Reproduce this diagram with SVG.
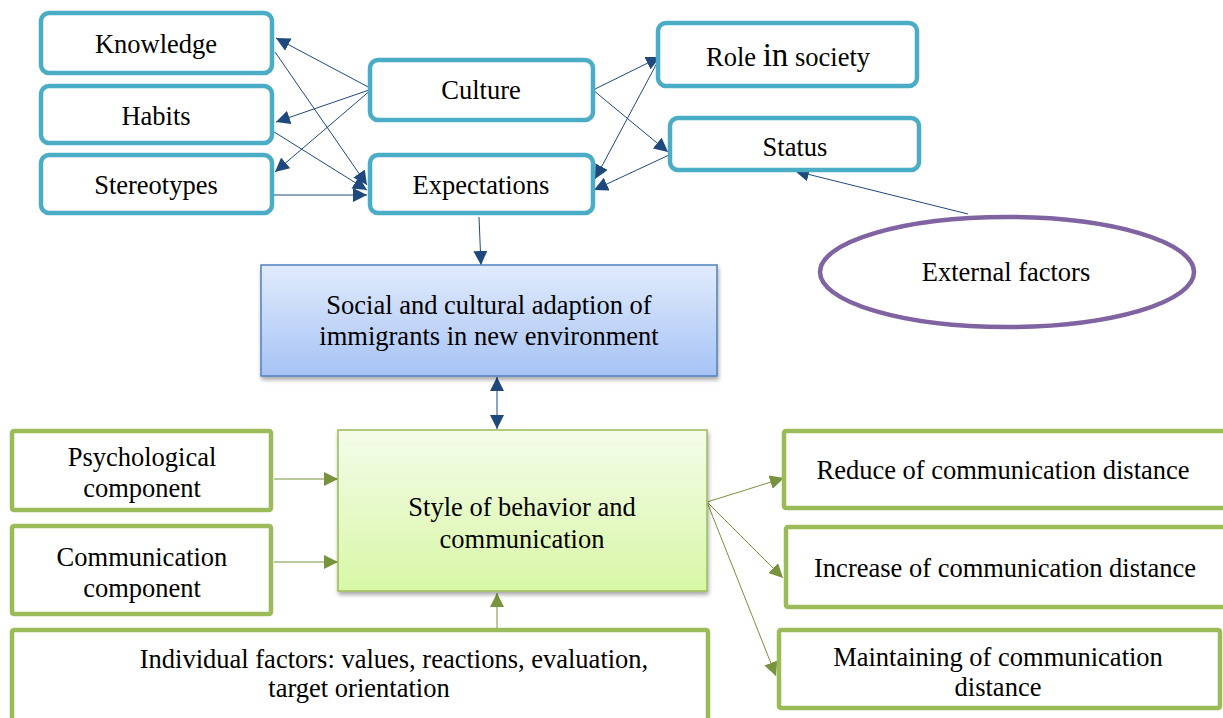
<svg xmlns="http://www.w3.org/2000/svg" width="1223" height="718" viewBox="0 0 1223 718">
<style>
text{font-family:"Liberation Serif","Times New Roman",serif;font-size:26.5px;fill:#000;text-anchor:middle}
.teal{fill:#fff;stroke:#4BACC6;stroke-width:4.5}
.grn{fill:#fff;stroke:#9BBB59;stroke-width:4.5}
.bl{stroke:#1F497D;stroke-width:1;fill:none}
.gl{stroke:#77933C;stroke-width:1;fill:none}
</style>
<defs>
<marker id="ab" viewBox="0 0 10 10" refX="10" refY="5" markerWidth="14" markerHeight="14" markerUnits="userSpaceOnUse" orient="auto-start-reverse"><path d="M0,0L10,5L0,10z" fill="#1F497D"/></marker>
<marker id="ag" viewBox="0 0 10 10" refX="10" refY="5" markerWidth="14" markerHeight="14" markerUnits="userSpaceOnUse" orient="auto-start-reverse"><path d="M0,0L10,5L0,10z" fill="#77933C"/></marker>
<linearGradient id="gb" x1="0" y1="0" x2="0" y2="1"><stop offset="0" stop-color="#E1EBFC"/><stop offset="1" stop-color="#A6C3F5"/></linearGradient>
<linearGradient id="gg" x1="0" y1="0" x2="0" y2="1"><stop offset="0" stop-color="#F4FCEA"/><stop offset="1" stop-color="#D8F7A6"/></linearGradient>
<filter id="sh" x="-5%" y="-5%" width="110%" height="115%"><feDropShadow dx="1" dy="3" stdDeviation="2" flood-color="#000" flood-opacity="0.35"/></filter>
</defs>
<g id="connectors">
<line class="bl" x1="372" y1="89" x2="276" y2="38" marker-end="url(#ab)"/>
<line class="bl" x1="372" y1="89" x2="276" y2="122" marker-end="url(#ab)"/>
<line class="bl" x1="372" y1="89" x2="275" y2="172" marker-end="url(#ab)"/>
<line class="bl" x1="275" y1="52" x2="367" y2="185" marker-end="url(#ab)"/>
<line class="bl" x1="271" y1="130" x2="367" y2="190" marker-end="url(#ab)"/>
<line class="bl" x1="273" y1="195" x2="367" y2="195" stroke="#8EA4C8" marker-end="url(#ab)"/>
<line class="bl" x1="593" y1="90" x2="660" y2="57" marker-end="url(#ab)"/>
<line class="bl" x1="593" y1="90" x2="668" y2="152" marker-end="url(#ab)"/>
<line class="bl" x1="657" y1="63" x2="595" y2="179" marker-end="url(#ab)"/>
<line class="bl" x1="669" y1="155" x2="594" y2="190" marker-end="url(#ab)"/>
<line class="bl" x1="968" y1="214" x2="795" y2="171" marker-end="url(#ab)"/>
<line class="bl" x1="479" y1="217" x2="481" y2="265" marker-end="url(#ab)"/>
<line class="bl" x1="497" y1="377" x2="497" y2="429" stroke="#8EA4C8" marker-start="url(#ab)" marker-end="url(#ab)"/>
<line class="gl" x1="274" y1="479" x2="338" y2="479" marker-end="url(#ag)"/>
<line class="gl" x1="274" y1="562" x2="338" y2="562" marker-end="url(#ag)"/>
<line class="gl" x1="497" y1="628" x2="497" y2="593" marker-end="url(#ag)"/>
<line class="gl" x1="707" y1="502" x2="784" y2="478" marker-end="url(#ag)"/>
<line class="gl" x1="707" y1="502" x2="783" y2="578" marker-end="url(#ag)"/>
<line class="gl" x1="707" y1="502" x2="776" y2="676" marker-end="url(#ag)"/>
</g>
<g id="knowledge"><rect class="teal" x="41" y="13" width="231" height="60" rx="8"/><text x="156" y="53">Knowledge</text></g>
<g id="habits"><rect class="teal" x="41" y="86" width="231" height="57" rx="8"/><text x="156" y="125">Habits</text></g>
<g id="stereotypes"><rect class="teal" x="41" y="155" width="231" height="58" rx="8"/><text x="156" y="194">Stereotypes</text></g>
<g id="culture"><rect class="teal" x="370" y="60" width="223" height="60" rx="8"/><text x="481" y="99">Culture</text></g>
<g id="expectations"><rect class="teal" x="370" y="155" width="223" height="58" rx="8"/><text x="481" y="194">Expectations</text></g>
<g id="role"><rect class="teal" x="658" y="23" width="259" height="63" rx="8"/><text x="788" y="66">Role <tspan font-size="33">in</tspan> society</text></g>
<g id="status"><rect class="teal" x="670" y="118" width="249" height="52" rx="8"/><text x="795" y="156">Status</text></g>
<g id="external"><ellipse cx="1007" cy="272" rx="187" ry="55" fill="#fff" stroke="#8064A2" stroke-width="4.5"/><text x="1006" y="281">External factors</text></g>
<g id="social"><rect x="261" y="265" width="456" height="111" fill="url(#gb)" stroke="#4F81BD" stroke-width="1.5" filter="url(#sh)"/><text x="489" y="314">Social and cultural adaption of</text><text x="489" y="345">immigrants in new environment</text></g>
<g id="style"><rect x="338" y="430" width="369" height="161" fill="url(#gg)" stroke="#9BBB59" stroke-width="1.5" filter="url(#sh)"/><text x="522" y="516">Style of behavior and</text><text x="522" y="548">communication</text></g>
<g id="psych"><rect class="grn" x="12" y="431" width="259" height="79" rx="2"/><text x="142" y="466">Psychological</text><text x="142" y="497">component</text></g>
<g id="comm"><rect class="grn" x="12" y="526" width="259" height="88" rx="2"/><text x="142" y="566">Communication</text><text x="142" y="597">component</text></g>
<g id="individual"><rect class="grn" x="12" y="630" width="696" height="92" rx="2"/><text x="394" y="668">Individual factors: values, reactions, evaluation,</text><text x="359" y="697">target orientation</text></g>
<g id="reduce"><rect class="grn" x="784" y="431" width="442" height="77" rx="2"/><text x="1003" y="479">Reduce of communication distance</text></g>
<g id="increase"><rect class="grn" x="786" y="527" width="440" height="80" rx="2"/><text x="1005" y="577">Increase of communication distance</text></g>
<g id="maintain"><rect class="grn" x="779" y="630" width="441" height="78" rx="2"/><text x="998" y="666">Maintaining of communication</text><text x="998" y="696">distance</text></g>
</svg>
